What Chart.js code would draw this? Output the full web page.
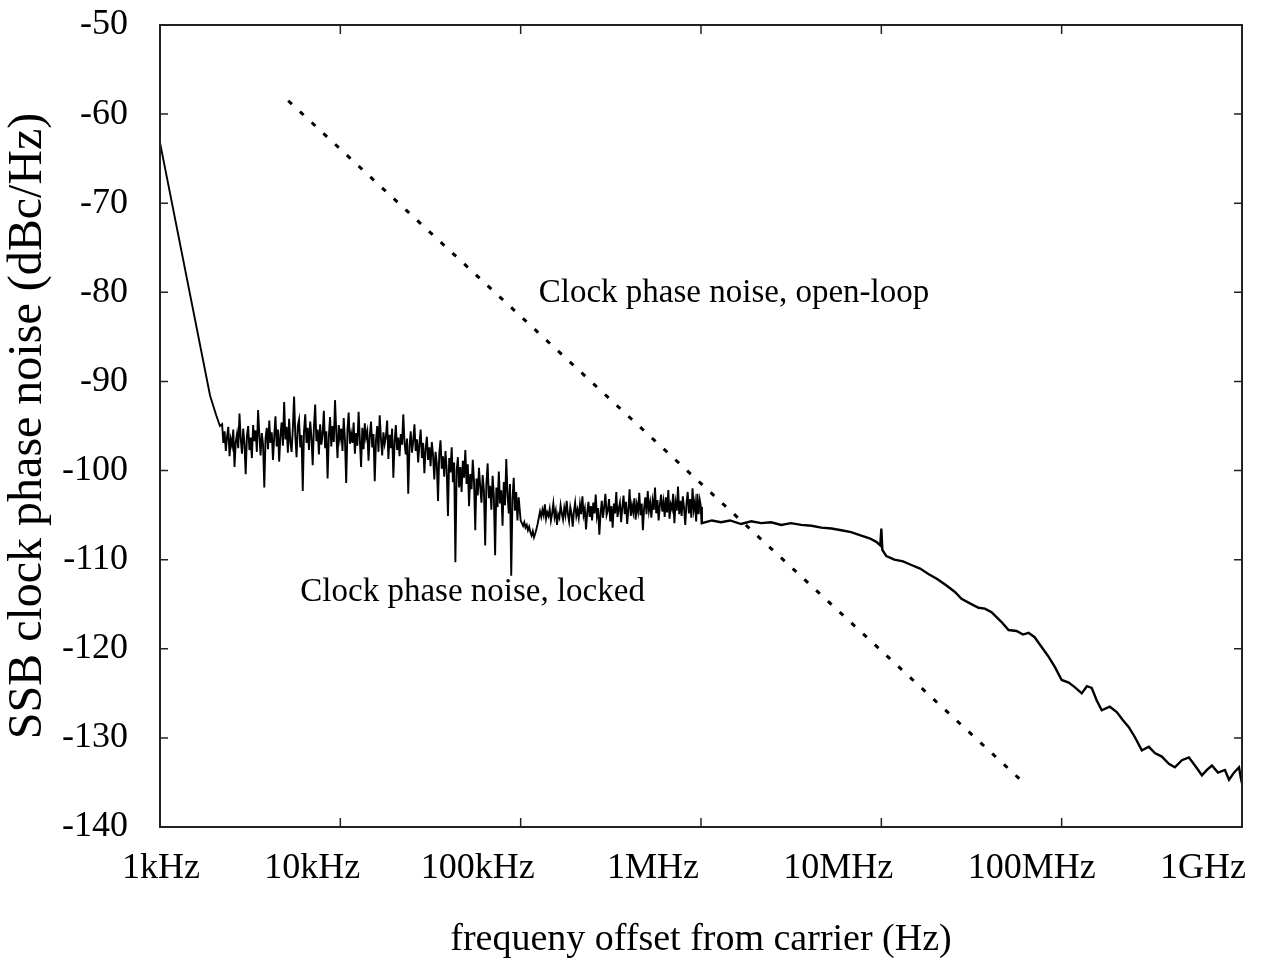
<!DOCTYPE html>
<html>
<head>
<meta charset="utf-8">
<script src="https://cdn.jsdelivr.net/npm/chart.js@4"></script>
<style>
  body { margin: 0; background: #fff; }
  #wrap { width: 1263px; height: 967px; }
</style>
</head>
<body>
<div id="wrap"><canvas id="noiseChart" width="1263" height="967"></canvas></div>
<script>
// axis ticks
const xTickValues = [1e3, 1e4, 1e5, 1e6, 1e7, 1e8, 1e9];
const xTickLabels = ['1kHz', '10kHz', '100kHz', '1MHz', '10MHz', '100MHz', '1GHz'];
const yTickValues = [-50, -60, -70, -80, -90, -100, -110, -120, -130, -140];

// locked curve: steep start (Hz, dBc/Hz)
const startFreq = [1e3, 1.896e3, 2.05e3, 2.15e3];
const startDb = [-63.2, -91.6, -93.8, -95.0];

// locked curve: noisy sweep 2.2kHz .. 97kHz (log spaced sweep points)
const noiseAFrom = 2.21e3, noiseATo = 9.75e4;
const noiseADb = [
  -94.8, -96.9, -95.6, -97.8, -96.2, -95.1, -98.4, -96.5, -97.2, -95.4, -99.6, -96.8,
  -95.9, -97.5, -93.6, -96.4, -98.1, -95.3, -97.0, -100.4, -96.1, -95.0, -97.7, -96.3,
  -98.6, -94.9, -96.7, -95.5, -97.9, -93.2, -96.0, -98.3, -95.8, -97.1, -101.9, -96.4,
  -95.2, -97.6, -94.4, -96.9, -95.7, -98.8, -96.2, -93.9, -97.3, -95.4, -99.0, -96.0,
  -94.6, -97.2, -92.3, -96.5, -95.1, -98.0, -94.2, -96.8, -97.9, -95.3, -91.7, -96.1,
  -98.5, -95.0, -94.3, -97.4, -96.0, -102.3, -95.6, -93.7, -96.9, -95.2, -97.7, -94.5,
  -96.3, -99.4, -95.1, -92.6, -96.7, -95.4, -98.2, -94.8, -97.1, -95.9, -93.3, -97.5,
  -95.6, -100.9, -96.2, -94.0, -97.3, -95.0, -96.8, -92.1, -95.7, -98.6, -94.9, -96.4,
  -95.3, -97.8, -94.1, -96.6, -101.4, -95.5, -93.5, -97.0, -95.9, -96.9, -94.6, -98.1,
  -95.8, -97.2, -93.4, -96.5, -99.6, -95.2, -97.6, -94.7, -96.3, -95.6, -98.9, -96.1,
  -94.5, -97.4, -95.9, -101.2, -96.6, -95.0, -97.9, -93.8, -96.4, -98.3, -95.7, -97.0,
  -96.2, -94.4, -98.7, -96.0, -97.5, -95.3, -100.8, -96.8, -94.9, -97.7, -96.3, -98.4,
  -95.9, -97.1, -93.7, -96.9, -98.2, -96.4, -102.6, -97.3, -95.6, -98.0, -96.7, -94.8,
  -97.8, -96.5, -99.1, -97.0, -95.4, -98.6, -96.9, -100.3, -97.6, -96.2, -98.8, -97.4,
  -99.5, -96.8, -98.3, -101.0, -97.9, -99.2, -103.4, -98.1, -96.6, -99.8, -98.4, -100.7,
  -97.8, -99.9, -105.1, -98.6, -100.2, -97.4, -101.3, -99.1, -110.3, -100.0, -98.5, -101.9,
  -99.6, -102.4, -98.9, -100.8, -97.7, -101.5, -99.3, -104.0, -100.4, -102.1, -98.8, -101.2,
  -106.7, -100.9, -102.8, -99.7, -101.8, -103.6, -100.5, -102.3, -108.4, -101.4, -99.2, -103.1,
  -101.7, -104.4, -100.6, -102.9, -109.5, -101.9, -104.1, -100.1, -103.7, -102.2, -106.2, -101.3,
  -103.9, -98.7, -102.6, -104.8, -101.5, -111.8, -103.2, -100.8, -104.5, -102.4, -105.6, -103.0
];

// locked curve: noisy sweep 100kHz .. 1MHz
const noiseBFrom = 1e5, noiseBTo = 1e6;
const noiseBDb = [
  -105.6, -105.9, -106.2, -105.8, -106.4, -106.1, -106.7, -106.3, -106.9, -107.3, -106.8, -107.5,
  -107.1, -106.6, -106.0, -105.3, -104.6, -105.2, -104.4, -105.0, -103.8, -105.4, -104.7, -105.1,
  -104.3, -105.6, -104.8, -103.7, -105.2, -104.5, -106.1, -104.9, -105.3, -103.9, -104.8, -105.5,
  -104.2, -105.0, -103.4, -104.9, -105.7, -104.1, -104.8, -106.3, -104.6, -103.6, -105.1, -104.4,
  -105.3, -103.8, -104.9, -102.9, -105.0, -104.3, -106.6, -104.7, -103.5, -105.2, -104.0, -105.6,
  -103.6, -104.8, -102.7, -105.1, -104.2, -107.2, -104.9, -103.4, -105.3, -104.1, -102.6, -105.0,
  -104.5, -103.2, -105.7, -104.0, -106.4, -103.7, -104.8, -102.4, -105.2, -104.3, -103.6, -105.8,
  -104.1, -102.8, -104.9, -103.5, -106.0, -104.4, -102.1, -105.1, -103.9, -104.7, -103.1, -105.5,
  -103.8, -104.6, -102.5, -105.0, -103.7, -106.7, -104.2, -103.0, -104.9, -102.3, -104.5, -103.6,
  -105.3, -103.4, -104.4, -101.9, -104.8, -103.3, -105.6, -103.9, -102.7, -104.6, -103.5, -105.2,
  -103.0, -104.7, -102.2, -105.4, -103.8, -104.3, -102.6, -105.9, -103.6, -104.5, -101.8, -104.9,
  -103.4, -105.1, -102.9, -104.2, -106.1, -103.7, -102.4, -104.8, -103.2, -105.3, -102.0, -104.4,
  -103.5, -105.7, -102.6, -104.9, -103.3, -104.1
];

// locked curve: 1MHz .. 1GHz
const tailFreq = [
  1.01e6, 1.15e6, 1.29e6, 1.45e6, 1.668e6, 1.9e6, 2.154e6, 2.45e6, 2.783e6, 3.15e6,
  3.594e6, 4.1e6, 4.642e6, 5.3e6, 5.995e6, 6.8e6, 7.743e6, 8.6e6, 9.38e6, 9.87e6,
  1e7, 1.013e7, 1.066e7, 1.181e7, 1.32e7, 1.468e7, 1.64e7, 1.824e7, 2.05e7, 2.297e7,
  2.55e7, 2.783e7, 3.1e7, 3.459e7, 3.75e7, 4.084e7, 4.642e7, 5.077e7, 5.623e7, 6.1e7,
  6.556e7, 7.079e7, 7.743e7, 8.47e7, 9.145e7, 1e8, 1.094e8, 1.181e8, 1.292e8, 1.38e8,
  1.468e8, 1.565e8, 1.668e8, 1.848e8, 2.021e8, 2.182e8, 2.357e8, 2.544e8, 2.783e8, 3.044e8,
  3.286e8, 3.594e8, 3.93e8, 4.244e8, 4.642e8, 5.077e8, 5.484e8, 5.995e8, 6.39e8, 6.813e8,
  7.356e8, 8.045e8, 8.47e8, 9.029e8, 9.624e8, 9.87e8, 1e9
];
const tailDb = [
  -105.9, -105.6, -105.8, -105.6, -106.0, -105.7, -105.9, -105.8, -106.1, -105.9,
  -106.1, -106.2, -106.4, -106.5, -106.7, -106.9, -107.3, -107.6, -108.0, -108.4,
  -106.5, -108.9, -109.6, -110.0, -110.2, -110.6, -111.0, -111.6, -112.2, -112.9,
  -113.6, -114.4, -114.9, -115.4, -115.5, -115.9, -117.0, -117.9, -118.0, -118.4,
  -118.2, -118.7, -119.8, -120.9, -122.0, -123.5, -123.8, -124.3, -125.0, -124.2,
  -124.4, -125.8, -126.9, -126.5, -127.1, -128.0, -128.8, -129.9, -131.4, -131.0,
  -131.7, -132.1, -132.9, -133.3, -132.5, -132.2, -133.1, -134.2, -133.6, -133.1,
  -133.9, -133.6, -134.7, -133.9, -133.3, -134.6, -135.1
];

// open-loop asymptote (dotted)
const openFreq = [5.14e3, 5.84e7];
const openDb = [-58.5, -134.6];

// annotation text and anchor (Hz, dB)
const annTexts = ['Clock phase noise, open-loop', 'Clock phase noise, locked'];
const annFreq = [1.26e5, 6.0e3];
const annDb = [-80.1, -113.7];

// x label nudges in px, the original sets them a bit left of the ticks
const xLabelShift = [1, -28, -43, -48, -43, -30, -39];

function sweep(from, to, vals) {
    const n = vals.length;
    return vals.map((v, i) => ({ x: from * Math.pow(to / from, i / (n - 1)), y: v }));
}

const noisyPoints = []
    .concat(startFreq.map((f, i) => ({ x: f, y: startDb[i] })))
    .concat(sweep(noiseAFrom, noiseATo, noiseADb))
    .concat(sweep(noiseBFrom, noiseBTo, noiseBDb));

const tailPoints = [noisyPoints[noisyPoints.length - 1]]
    .concat(tailFreq.map((f, i) => ({ x: f, y: tailDb[i] })));

const openPoints = openFreq.map((f, i) => ({ x: f, y: openDb[i] }));

const SERIF = '"Liberation Serif", "Times New Roman", serif';

// frame, inward ticks, x tick labels and the two text labels
const framePlugin = {
    id: 'frame',
    afterDraw(chart) {
        const { ctx, chartArea: a, scales } = chart;
        ctx.save();
        ctx.strokeStyle = '#222';
        ctx.lineWidth = 1.5;
        xTickValues.forEach(v => {
            const px = scales.x.getPixelForValue(v);
            ctx.beginPath();
            ctx.moveTo(px, a.bottom); ctx.lineTo(px, a.bottom - 9);
            ctx.moveTo(px, a.top); ctx.lineTo(px, a.top + 9);
            ctx.stroke();
        });
        yTickValues.forEach(v => {
            const py = scales.y.getPixelForValue(v);
            ctx.beginPath();
            ctx.moveTo(a.left, py); ctx.lineTo(a.left + 8, py);
            ctx.moveTo(a.right, py); ctx.lineTo(a.right - 8, py);
            ctx.stroke();
        });
        ctx.lineWidth = 2;
        ctx.strokeRect(a.left, a.top, a.right - a.left, a.bottom - a.top);

        ctx.fillStyle = '#000';
        ctx.textBaseline = 'middle';
        ctx.textAlign = 'center';
        ctx.font = '36px ' + SERIF;
        xTickValues.forEach((v, i) => {
            ctx.fillText(xTickLabels[i], scales.x.getPixelForValue(v) + xLabelShift[i], a.bottom + 42);
        });

        ctx.font = '33px ' + SERIF;
        ctx.textAlign = 'left';
        annTexts.forEach((t, i) => {
            ctx.fillText(t, scales.x.getPixelForValue(annFreq[i]), scales.y.getPixelForValue(annDb[i]));
        });
        ctx.restore();
    }
};

new Chart(document.getElementById('noiseChart'), {
    type: 'line',
    data: {
        datasets: [
            {
                label: 'locked',
                data: noisyPoints,
                borderColor: '#000',
                borderWidth: 1.9,
                pointRadius: 0,
                tension: 0
            },
            {
                label: 'locked tail',
                data: tailPoints,
                borderColor: '#000',
                borderWidth: 2.4,
                pointRadius: 0,
                tension: 0
            },
            {
                label: 'open-loop',
                data: openPoints,
                borderColor: '#000',
                borderWidth: 3,
                borderDash: [5, 11],
                pointRadius: 0,
                tension: 0
            }
        ]
    },
    options: {
        responsive: false,
        animation: false,
        layout: { padding: { top: 25, right: 21, left: 0, bottom: 0 } },
        plugins: {
            legend: { display: false },
            tooltip: { enabled: false }
        },
        scales: {
            x: {
                type: 'logarithmic',
                min: 1e3,
                max: 1e9,
                afterBuildTicks: s => { s.ticks = xTickValues.map(v => ({ value: v })); },
                afterFit: s => { s.height = 140; s.paddingLeft = 0; s.paddingRight = 0; },
                grid: { display: false, drawTicks: false },
                border: { display: false },
                ticks: { display: false },
                title: {
                    display: true,
                    text: 'frequeny offset from carrier (Hz)',
                    color: '#000',
                    font: { family: SERIF, size: 38 },
                    padding: { top: 0, bottom: 4 }
                }
            },
            y: {
                type: 'linear',
                min: -140,
                max: -50,
                afterBuildTicks: s => { s.ticks = yTickValues.map(v => ({ value: v })); },
                afterFit: s => { s.width = 160; s.paddingTop = 0; s.paddingBottom = 0; },
                grid: { display: false, drawTicks: false },
                border: { display: false },
                ticks: {
                    padding: 32,
                    color: '#000',
                    font: { family: SERIF, size: 36 },
                    callback: v => String(v)
                },
                title: {
                    display: true,
                    text: 'SSB clock phase noise (dBc/Hz)',
                    color: '#000',
                    font: { family: SERIF, size: 48 },
                    padding: { top: 0, bottom: 0 }
                }
            }
        }
    },
    plugins: [framePlugin]
});
</script>
</body>
</html>
